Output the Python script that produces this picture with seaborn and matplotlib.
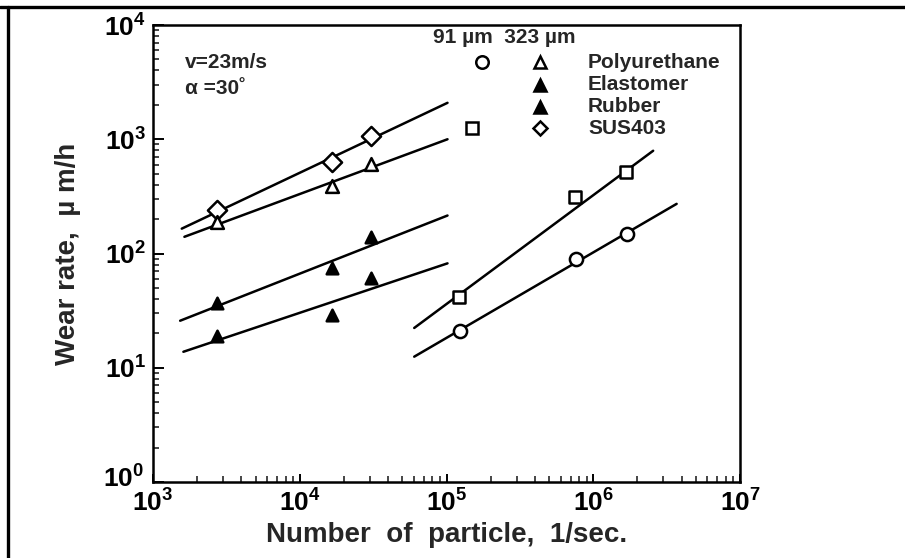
import matplotlib
matplotlib.use("Agg")
import matplotlib.pyplot as plt
import matplotlib.ticker as mticker
import matplotlib.transforms as mtransforms
from matplotlib.lines import Line2D
import numpy as np
import pandas as pd
import seaborn as sns

# Measured wear rates (µm/h) against particle impact rate (1/sec)
x_323 = [2720, 16600, 30400]
sus403_323 = [238, 627, 1069]
polyurethane_323 = [189, 393, 606]
elastomer_323 = [37, 75, 140]
rubber_323 = [19, 29, 61]

x_91_sus = [122000, 747000, 1680000]
sus403_91 = [42, 311, 513]
x_91_poly = [124000, 768000, 1710000]
polyurethane_91 = [21, 90, 149]

# Fitted straight lines on log-log axes, given by their end points
fit_names = ["sus403_323", "polyurethane_323", "elastomer_323", "rubber_323",
             "sus403_91", "polyurethane_91"]
fit_x = [[1570, 101600], [1637, 101600], [1531, 101600], [1611, 101600],
         [60260, 2560000], [60260, 3700000]]
fit_y = [[165, 2084], [140, 1000], [25.8, 215], [13.8, 82],
         [22.3, 793], [12.5, 272]]

x_ticks = [1e3, 1e4, 1e5, 1e6, 1e7]
y_ticks = [1e0, 1e1, 1e2, 1e3, 1e4]

sns.set_style("ticks")
plt.rcParams["font.family"] = ["Liberation Sans", "DejaVu Sans"]
plt.rcParams["mathtext.fontset"] = "custom"
plt.rcParams["mathtext.bf"] = "Liberation Sans:bold"
plt.rcParams["mathtext.rm"] = "Liberation Sans"

fig = plt.figure(figsize=(9.05, 5.58), dpi=100)
ax = fig.add_axes([153 / 905, 1 - 482 / 558, 587 / 905, 457 / 558])

# fitted lines
fit_df = pd.DataFrame({
    "x": [v for pair in fit_x for v in pair],
    "y": [v for pair in fit_y for v in pair],
    "series": [n for n in fit_names for _ in range(2)],
})
sns.lineplot(data=fit_df, x="x", y="y", units="series", estimator=None,
             color="black", lw=1.8, ax=ax, legend=False)

marker_kw = dict(edgecolor="black", linewidth=1.8, ax=ax, legend=False, zorder=3)
sns.scatterplot(x=x_323, y=sus403_323, marker="D", s=95, color="white", **marker_kw)
sns.scatterplot(x=x_323, y=polyurethane_323, marker="^", s=85, color="white", **marker_kw)
sns.scatterplot(x=x_323, y=elastomer_323, marker="^", s=70, color="black", **marker_kw)
sns.scatterplot(x=x_323, y=rubber_323, marker="^", s=70, color="black", **marker_kw)
sns.scatterplot(x=x_91_sus, y=sus403_91, marker="s", s=85, color="white", **marker_kw)
sns.scatterplot(x=x_91_poly, y=polyurethane_91, marker="o", s=90, color="white", **marker_kw)

ax.set_xscale("log")
ax.set_yscale("log")
ax.set_xlim(x_ticks[0], x_ticks[-1])
ax.set_ylim(y_ticks[0], y_ticks[-1])
ax.set_xticks(x_ticks)
ax.set_yticks(y_ticks)
fmt = mticker.FuncFormatter(lambda v, p: r"$\mathbf{10^{%d}}$" % round(np.log10(v)))
ax.xaxis.set_major_formatter(fmt)
ax.yaxis.set_major_formatter(fmt)
ax.xaxis.set_minor_locator(mticker.LogLocator(base=10, subs=np.arange(2, 10)))
ax.yaxis.set_minor_locator(mticker.LogLocator(base=10, subs=np.arange(2, 10)))
ax.xaxis.set_minor_formatter(mticker.NullFormatter())
ax.yaxis.set_minor_formatter(mticker.NullFormatter())
ax.tick_params(which="major", direction="in", length=8, width=1.4, labelsize=19,
               colors="black", pad=5)
ax.tick_params(which="minor", direction="in", length=4.5, width=1.2)
ax.tick_params(axis="x", which="major", length=6, pad=5)
for sp in ax.spines.values():
    sp.set_linewidth(1.8)
    sp.set_color("black")

# the lowest y label and the first x label meet at the corner; lift the y one a little
fig.canvas.draw()
lift = mtransforms.ScaledTranslation(-2 / 100, 6 / 100, fig.dpi_scale_trans)
ylab0 = ax.yaxis.get_major_ticks()[0].label1
ylab0.set_transform(ylab0.get_transform() + lift)

ax.set_xlabel("Number  of  particle,  1/sec.", fontsize=20, fontweight="bold", labelpad=4)
ax.set_ylabel("Wear rate,  µ m/h", fontsize=20, fontweight="bold", labelpad=16)

# condition notes
ax.text(0.0545, 0.917, "v=23m/s", transform=ax.transAxes, fontsize=15,
        fontweight="bold", va="center", ha="left")
ax.text(0.0545, 0.862, "α =30˚", transform=ax.transAxes, fontsize=15,
        fontweight="bold", va="center", ha="left")

# hand-built key: particle size columns, material rows
ax.text(0.477, 0.9716, "91 µm  323 µm", transform=ax.transAxes, fontsize=15,
        fontweight="bold", va="center", ha="left")
key_rows = [0.919, 0.869, 0.8206, 0.7746]
key_names = ["Polyurethane", "Elastomer", "Rubber", "SUS403"]
key_91 = [("o", 0.5605, "white", 9), None, None, ("s", 0.543, "white", 8.5)]
key_323 = [("^", "white", 9), ("^", "black", 8.5), ("^", "black", 8.5), ("D", "white", 7)]
for yy, name, k91, k323 in zip(key_rows, key_names, key_91, key_323):
    if k91 is not None:
        m, xx, fc, ms = k91
        ax.add_line(Line2D([xx], [yy], marker=m, ms=ms, mfc=fc, mec="black", mew=1.8,
                           transform=ax.transAxes, ls="none"))
    m, fc, ms = k323
    ax.add_line(Line2D([0.659], [yy], marker=m, ms=ms, mfc=fc, mec="black", mew=1.8,
                       transform=ax.transAxes, ls="none"))
    ax.text(0.741, yy, name, transform=ax.transAxes, fontsize=15,
            fontweight="bold", va="center", ha="left")

# outer frame lines along the top and left edges
fig.add_artist(Line2D([0, 1], [1 - 6.5 / 558, 1 - 6.5 / 558], transform=fig.transFigure,
                      color="black", lw=2.4))
fig.add_artist(Line2D([7.5 / 905, 7.5 / 905], [0, 1 - 6.5 / 558], transform=fig.transFigure,
                      color="black", lw=2.4))

fig.savefig("out.png", dpi=100)
